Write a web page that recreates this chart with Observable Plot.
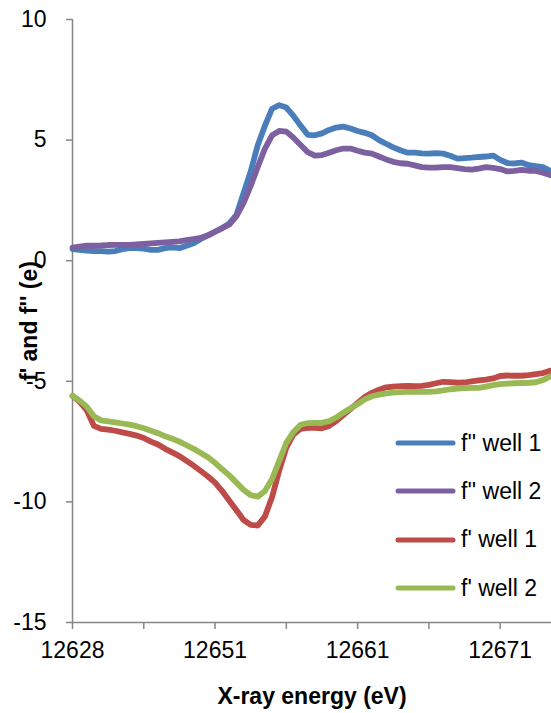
<!DOCTYPE html>
<html><head><meta charset="utf-8">
<script src="https://cdn.jsdelivr.net/npm/d3@7"></script>
<script src="https://cdn.jsdelivr.net/npm/@observablehq/plot@0.6"></script>
<style>
html,body{margin:0;padding:0;background:#fff;}
#wrap{position:relative;width:551px;height:713px;font-family:"Liberation Sans",Arial,sans-serif;}
#legend{position:absolute;left:395px;top:419px;}
.item{display:flex;align-items:center;height:48.3px;font-size:23px;color:#000;white-space:nowrap;}
.item svg{margin-right:4px;display:block}
g[aria-label="x-axis label"], g[aria-label="y-axis label"]{font-weight:bold;}
</style></head><body><div id="wrap"><div id="legend"></div></div>
<script>
const seriesNames = ["f'' well 1", "f'' well 2", "f' well 1", "f' well 2"];
const seriesColors = ["#4A7EBB", "#7D60A0", "#BE4B48", "#98B954"];

const fppWell1 = [0.48,0.45,0.42,0.40,0.40,0.38,0.40,0.48,0.52,0.52,
  0.50,0.45,0.45,0.52,0.55,0.52,0.62,0.72,0.90,1.05,
  1.20,1.35,1.55,1.90,2.80,3.70,4.80,5.60,6.30,6.45,
  6.35,6.00,5.60,5.22,5.20,5.28,5.42,5.52,5.56,5.48,
  5.38,5.30,5.20,5.00,4.85,4.70,4.58,4.48,4.48,4.45,
  4.44,4.46,4.44,4.35,4.23,4.25,4.27,4.30,4.32,4.36,
  4.18,4.05,4.03,4.07,3.96,3.92,3.88,3.73];
const fppWell2 = [0.54,0.58,0.62,0.62,0.63,0.65,0.66,0.66,0.66,0.68,
  0.70,0.72,0.74,0.76,0.78,0.80,0.85,0.90,0.95,1.05,
  1.20,1.35,1.50,1.85,2.40,3.10,3.90,4.65,5.20,5.38,
  5.35,5.10,4.80,4.50,4.36,4.38,4.48,4.58,4.65,4.65,
  4.56,4.48,4.44,4.32,4.20,4.10,4.04,4.02,3.95,3.88,
  3.86,3.86,3.88,3.88,3.84,3.80,3.78,3.82,3.88,3.85,
  3.80,3.70,3.72,3.77,3.73,3.72,3.65,3.55];
const fpWell1 = [-5.60,-5.85,-6.20,-6.85,-6.97,-7.00,-7.05,-7.12,-7.18,-7.25,
  -7.35,-7.50,-7.62,-7.80,-7.95,-8.10,-8.30,-8.50,-8.72,-8.95,
  -9.20,-9.55,-9.95,-10.35,-10.75,-10.95,-10.98,-10.60,-9.80,-8.70,
  -7.75,-7.20,-6.97,-6.93,-6.93,-6.95,-6.85,-6.65,-6.40,-6.15,
  -5.90,-5.65,-5.48,-5.35,-5.25,-5.22,-5.20,-5.19,-5.20,-5.19,
  -5.15,-5.08,-5.02,-5.03,-5.06,-5.05,-5.00,-4.96,-4.93,-4.88,
  -4.78,-4.76,-4.77,-4.77,-4.74,-4.70,-4.66,-4.56];
const fpWell2 = [-5.60,-5.80,-6.05,-6.45,-6.62,-6.66,-6.70,-6.75,-6.80,-6.86,
  -6.95,-7.05,-7.15,-7.28,-7.38,-7.50,-7.65,-7.80,-7.97,-8.15,
  -8.38,-8.65,-8.90,-9.20,-9.50,-9.72,-9.78,-9.55,-9.05,-8.30,
  -7.55,-7.10,-6.80,-6.73,-6.72,-6.72,-6.65,-6.50,-6.30,-6.12,
  -5.95,-5.75,-5.62,-5.55,-5.50,-5.47,-5.45,-5.44,-5.44,-5.44,
  -5.44,-5.42,-5.38,-5.33,-5.30,-5.28,-5.27,-5.27,-5.22,-5.16,
  -5.12,-5.10,-5.08,-5.07,-5.06,-5.04,-4.95,-4.80];

// category axis (Excel-style): tick marks every 10 points, labels every 20
const tickIndex = [0, 10, 20, 30, 40, 50, 60];
const labelIndex = [0, 20, 40, 60];
const labelText = ["12628", "12651", "12661", "12671"];
const yTicks = [-15, -10, -5, 0, 5, 10];

const allSeries = [fppWell1, fppWell2, fpWell1, fpWell2];
const rows = [];
allSeries.forEach((arr, s) => arr.forEach((v, i) => rows.push({i, v, series: seriesNames[s]})));
const labelMap = new Map(labelIndex.map((d, k) => [d, labelText[k]]));

const axisGray = "#868686";
const chart = Plot.plot({
  width: 551,
  height: 713,
  marginLeft: 72,
  marginRight: 0,
  marginTop: 19,
  marginBottom: 91,
  style: {fontFamily: "'Liberation Sans', Arial, sans-serif", fontSize: "23px", color: "#000", background: "#fff"},
  x: {domain: [0, 67.2]},
  y: {domain: [-15, 10]},
  color: {domain: seriesNames, range: seriesColors},
  marks: [
    Plot.ruleX([0], {stroke: axisGray, strokeWidth: 1.5}),
    Plot.ruleY([-15], {stroke: axisGray, strokeWidth: 1.5}),
    Plot.axisY(yTicks, {tickSize: 6, tickPadding: 20, stroke: axisGray, strokeWidth: 1.5, fill: "#000",
      tickFormat: d => String(d),
      label: "f' and f'' (e)", labelAnchor: "center", labelOffset: 52, labelArrow: "none"}),
    Plot.axisX(tickIndex, {tickSize: 7, stroke: axisGray, strokeWidth: 1.5, tickFormat: () => "", label: null}),
    Plot.axisX(labelIndex, {tickSize: 0, tickPadding: 19, fill: "#000", tickFormat: d => labelMap.get(d),
      label: "X-ray energy (eV)", labelAnchor: "center", labelOffset: 81, labelArrow: "none"}),
    Plot.line(rows, {x: "i", y: "v", z: "series", stroke: "series", strokeWidth: 5.8,
      strokeLinejoin: "round", strokeLinecap: "round"})
  ]
});
const wrap = document.getElementById("wrap");
wrap.insertBefore(chart, wrap.firstChild);

const legend = document.getElementById("legend");
seriesNames.forEach((name, k) => {
  const item = document.createElement("div");
  item.className = "item";
  item.innerHTML = `<svg width="62" height="10"><line x1="3" y1="5" x2="58" y2="5" stroke="${seriesColors[k]}" stroke-width="5" stroke-linecap="round"/></svg>`;
  const t = document.createElement("span");
  t.textContent = name;
  item.appendChild(t);
  legend.appendChild(item);
});
</script></body></html>
